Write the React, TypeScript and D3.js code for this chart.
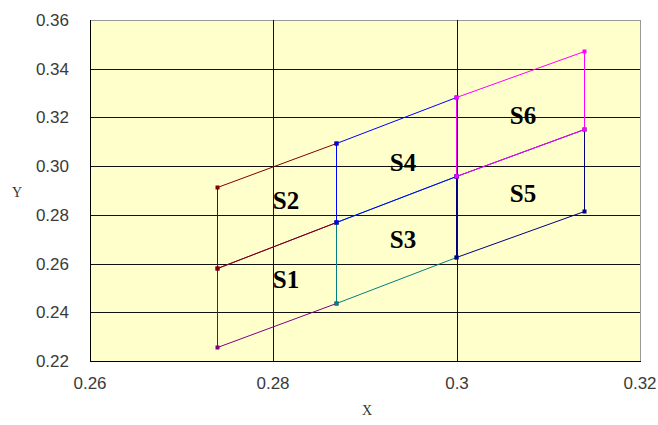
import { useRef, useEffect } from "react"
import * as d3 from "d3"

// grid of corner points
const xValues = [0.2739, 0.2868, 0.2999, 0.3139]
const yBottom = [0.2259, 0.2439, 0.2628, 0.2817]
const yMiddle = [0.2581, 0.277, 0.296, 0.3154]
const yTop = [0.2913, 0.3094, 0.3283, 0.3473]

// each series is one cell of the grid
const seriesNames = ["S1", "S2", "S3", "S4", "S5", "S6"]
const seriesColumn = [0, 0, 1, 1, 2, 2]
const seriesUpper = [false, true, false, true, false, true]
const seriesColors = ["#800080", "#800000", "#008080", "#0000FF", "#000080", "#FF00FF"]

// cell labels (data units)
const labelX = [0.2814, 0.2814, 0.2941, 0.2941, 0.3072, 0.3072]
const labelY = [0.2535, 0.2859, 0.2701, 0.3015, 0.289, 0.321]

const xTicks = [0.26, 0.28, 0.3, 0.32]
const xTickLabels = ["0.26", "0.28", "0.3", "0.32"]
const yTicks = [0.22, 0.24, 0.26, 0.28, 0.3, 0.32, 0.34, 0.36]
const yTickLabels = ["0.22", "0.24", "0.26", "0.28", "0.30", "0.32", "0.34", "0.36"]

const App = () => {
  const svgRef = useRef<SVGSVGElement>(null)

  useEffect(() => {
    const width = 658
    const height = 425
    const margin = { top: 20, right: 18, bottom: 64, left: 90 }

    const root = d3.select(svgRef.current)
    root.selectAll("*").remove()
    root.attr("width", width).attr("height", height)

    const x = d3.scaleLinear().domain([0.26, 0.32]).rangeRound([margin.left, width - margin.right])
    const y = d3.scaleLinear().domain([0.22, 0.36]).rangeRound([height - margin.bottom, margin.top])

    const [x0, x1] = x.range()
    const [y0, y1] = y.range()

    // plot area
    root
      .append("rect")
      .attr("x", x0 + 0.5)
      .attr("y", y1 + 0.5)
      .attr("width", x1 - x0)
      .attr("height", y0 - y1)
      .attr("fill", "#FFFFCC")
      .attr("stroke", "#999")
      .attr("stroke-width", 1)

    // gridlines
    const grid = root.append("g").attr("stroke", "#111").attr("stroke-width", 1).attr("shape-rendering", "crispEdges")
    yTicks.slice(1, -1).forEach((t) => {
      grid.append("line").attr("x1", x0).attr("x2", x1).attr("y1", y(t) + 0.5).attr("y2", y(t) + 0.5)
    })
    xTicks.slice(1, -1).forEach((t) => {
      grid.append("line").attr("x1", x(t) + 0.5).attr("x2", x(t) + 0.5).attr("y1", y1).attr("y2", y0)
    })

    // axes lines
    const axes = root.append("g").attr("stroke", "#000").attr("stroke-width", 1).attr("shape-rendering", "crispEdges")
    axes.append("line").attr("x1", x0 + 0.5).attr("x2", x0 + 0.5).attr("y1", y1).attr("y2", y0 + 1)
    axes.append("line").attr("x1", x0).attr("x2", x1 + 1).attr("y1", y0 + 0.5).attr("y2", y0 + 0.5)

    // tick labels
    const tickFont = "'Liberation Sans', Arial, sans-serif"
    yTicks.forEach((t, i) => {
      root
        .append("text")
        .attr("x", x0 - 21)
        .attr("y", y(t) + 6)
        .attr("text-anchor", "end")
        .style("font-family", tickFont)
        .style("font-size", "17px")
        .style("fill", "#3a3a3a")
        .text(yTickLabels[i])
    })
    xTicks.forEach((t, i) => {
      root
        .append("text")
        .attr("x", x(t))
        .attr("y", y0 + 28)
        .attr("text-anchor", "middle")
        .style("font-family", tickFont)
        .style("font-size", "17px")
        .style("fill", "#3a3a3a")
        .text(xTickLabels[i])
    })

    // axis titles
    root
      .append("text")
      .attr("x", (x0 + x1) / 2 + 2)
      .attr("y", y0 + 54)
      .attr("text-anchor", "middle")
      .style("font-family", "'Liberation Serif', serif")
      .style("font-size", "14px")
      .style("fill", "#333")
      .text("X")
    root
      .append("text")
      .attr("x", 17)
      .attr("y", 197)
      .attr("text-anchor", "middle")
      .style("font-family", "'Liberation Serif', serif")
      .style("font-size", "14px")
      .style("fill", "#333")
      .text("Y")

    // series: closed cells, drawn in order so later ones cover shared edges
    const line = d3
      .line<[number, number]>()
      .x((d) => x(d[0]) + 0.5)
      .y((d) => y(d[1]) + 0.5)

    seriesNames.forEach((name, i) => {
      const c = seriesColumn[i]
      const lo = seriesUpper[i] ? yMiddle : yBottom
      const hi = seriesUpper[i] ? yTop : yMiddle
      const pts: [number, number][] = [
        [xValues[c], lo[c]],
        [xValues[c + 1], lo[c + 1]],
        [xValues[c + 1], hi[c + 1]],
        [xValues[c], hi[c]],
        [xValues[c], lo[c]],
      ]
      const g = root.append("g").attr("class", name)
      g.append("path")
        .datum(pts)
        .attr("fill", "none")
        .attr("stroke", seriesColors[i])
        .attr("stroke-width", 1)
        .attr("d", line)
      g.selectAll("rect")
        .data(pts.slice(0, 4))
        .enter()
        .append("rect")
        .attr("x", (d) => x(d[0]) - 1.5)
        .attr("y", (d) => y(d[1]) - 1.5)
        .attr("width", 4)
        .attr("height", 4)
        .attr("fill", seriesColors[i])
    })

    // cell labels
    seriesNames.forEach((name, i) => {
      root
        .append("text")
        .attr("x", x(labelX[i]))
        .attr("y", y(labelY[i]) + 9)
        .attr("text-anchor", "middle")
        .style("font-family", "'Liberation Serif', serif")
        .style("font-size", "25px")
        .style("font-weight", "bold")
        .style("fill", "#000")
        .text(name)
    })
  }, [])

  return (
    <div style={{ position: "absolute", left: 0, top: 0 }}>
      <svg ref={svgRef} style={{ display: "block", background: "#fff" }}></svg>
    </div>
  )
}

export default App
